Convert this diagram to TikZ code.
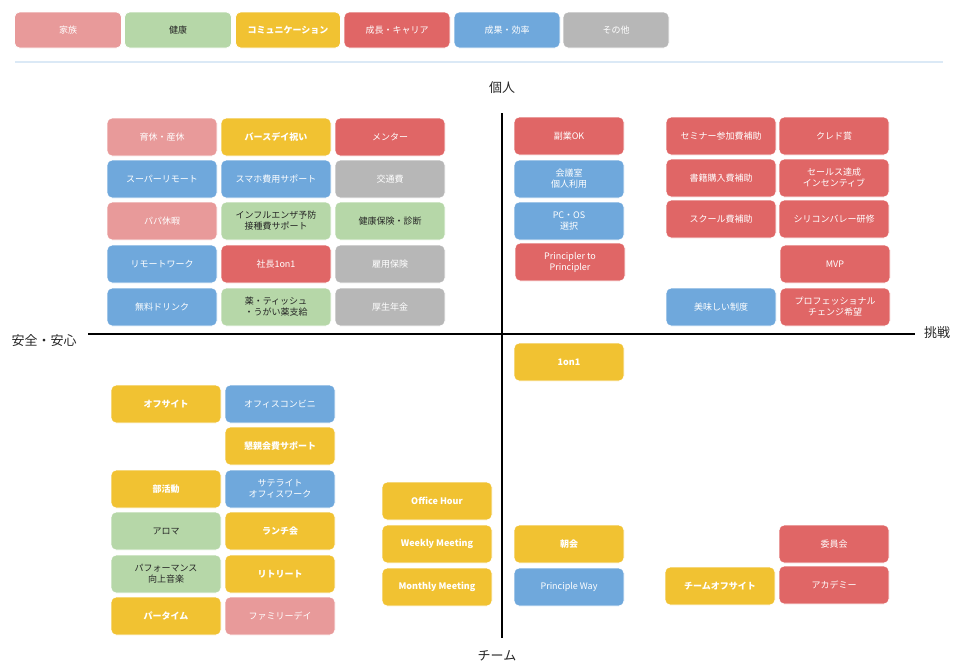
\documentclass[tikz,border=0pt]{standalone}
\usepackage{fontspec}
\setmainfont{Noto Sans CJK JP}
\definecolor{cpink}{HTML}{E89A9A}
\definecolor{cgreen}{HTML}{B6D7A8}
\definecolor{cyel}{HTML}{F1C232}
\definecolor{cred}{HTML}{E06666}
\definecolor{cblue}{HTML}{6FA8DC}
\definecolor{cgrey}{HTML}{B7B7B7}
\tikzset{
 bx/.style={rounded corners=5pt,minimum width=110pt,minimum height=38pt,align=center,font=\fontsize{9}{11}\selectfont,text=white,draw=white,line width=0.8pt},
 pk/.style={bx,fill=cpink},
 gr/.style={bx,fill=cgreen,text=black!85},
 ye/.style={bx,fill=cyel,font=\fontsize{9}{11}\selectfont\bfseries},
 rd/.style={bx,fill=cred},
 bl/.style={bx,fill=cblue},
 gy/.style={bx,fill=cgrey},
 ax/.style={line width=2.2pt,black},
 axl/.style={font=\fontsize{13}{15}\selectfont,text=black!85}
}
\begin{document}
\begin{tikzpicture}[x=1pt,y=-1pt]
\useasboundingbox (0,0) rectangle (960,670);
% legend
\node[pk,minimum width=107pt,minimum height=36pt] (l1) at (68,30) {家族};
\node[gr,minimum width=107pt,minimum height=36pt] (l2) at (178,30) {健康};
\node[ye,minimum width=105pt,minimum height=36pt] (l3) at (288,30) {コミュニケーション};
\node[rd,minimum width=106pt,minimum height=36pt] (l4) at (397,30) {成長・キャリア};
\node[bl,minimum width=106pt,minimum height=36pt] (l5) at (507,30) {成果・効率};
\node[gy,minimum width=106pt,minimum height=36pt] (l6) at (616,30) {その他};
\coordinate (s1) at (15,62); \coordinate (s2) at (943,62);
\draw[color=cblue!25,line width=1.2pt] (s1) -- (s2);
% axes
\coordinate (at) at (502,113); \coordinate (ab) at (502,638);
\coordinate (al) at (88,334); \coordinate (ar) at (915,334);
\draw[ax] (at) -- (ab); \draw[ax] (al) -- (ar);
\node[axl] (xt) at (502,88) {個人};
\node[axl] (xb) at (497,656) {チーム};
\node[axl] (xl) at (44,341) {安全・安心};
\node[axl] (xr) at (937,333) {挑戦};
% top-left
\node[pk] (a1) at (162,137) {育休・産休};
\node[ye] (a2) at (276,137) {バースデイ祝い};
\node[rd] (a3) at (390,137) {メンター};
\node[bl] (b1) at (162,179) {スーパーリモート};
\node[bl] (b2) at (276,179) {スマホ費用サポート};
\node[gy] (b3) at (390,179) {交通費};
\node[pk] (c1) at (162,221) {パパ休暇};
\node[gr] (c2) at (276,221) {インフルエンザ予防\\接種費サポート};
\node[gr] (c3) at (390,221) {健康保険・診断};
\node[bl] (d1) at (162,264) {リモートワーク};
\node[rd] (d2) at (276,264) {社長1on1};
\node[gy] (d3) at (390,264) {雇用保険};
\node[bl] (e1) at (162,307) {無料ドリンク};
\node[gr] (e2) at (276,307) {薬・ティッシュ\\・うがい薬支給};
\node[gy] (e3) at (390,307) {厚生年金};
% top-right
\node[rd] (f1) at (569,136) {副業OK};
\node[bl] (f2) at (569,179) {会議室\\個人利用};
\node[bl] (f3) at (569,221) {PC・OS\\選択};
\node[rd] (f4) at (570,262) {Principler to\\Principler};
\node[rd] (g1) at (721,136) {セミナー参加費補助};
\node[rd] (h1) at (834,136) {クレド賞};
\node[rd] (g2) at (721,178) {書籍購入費補助};
\node[rd] (h2) at (834,178) {セールス達成\\インセンティブ};
\node[rd] (g3) at (721,219) {スクール費補助};
\node[rd] (h3) at (834,219) {シリコンバレー研修};
\node[rd] (h4) at (835,264) {MVP};
\node[bl] (g5) at (721,307) {美味しい制度};
\node[rd] (h5) at (835,307) {プロフェッショナル\\チェンジ希望};
% bottom-right
\node[ye] (o1) at (569,362) {1on1};
\node[ye] (o2) at (569,544) {朝会};
\node[bl] (o3) at (569,587) {Principle Way};
\node[ye] (o4) at (720,586) {チームオフサイト};
\node[rd] (o5) at (834,544) {委員会};
\node[rd] (o6) at (834,585) {アカデミー};
% bottom middle
\node[ye] (m1) at (437,501) {Office Hour};
\node[ye] (m2) at (437,544) {Weekly Meeting};
\node[ye] (m3) at (437,587) {Monthly Meeting};
% bottom-left
\node[ye] (p1) at (166,404) {オフサイト};
\node[bl] (q1) at (280,404) {オフィスコンビニ};
\node[ye] (q2) at (280,446) {懇親会費サポート};
\node[ye] (p3) at (166,489) {部活動};
\node[bl] (q3) at (280,489) {サテライト\\オフィスワーク};
\node[gr] (p4) at (166,531) {アロマ};
\node[ye] (q4) at (280,531) {ランチ会};
\node[gr] (p5) at (166,574) {パフォーマンス\\向上音楽};
\node[ye] (q5) at (280,574) {リトリート};
\node[ye] (p6) at (166,616) {パータイム};
\node[pk] (q6) at (280,616) {ファミリーデイ};
\end{tikzpicture}
\end{document}
